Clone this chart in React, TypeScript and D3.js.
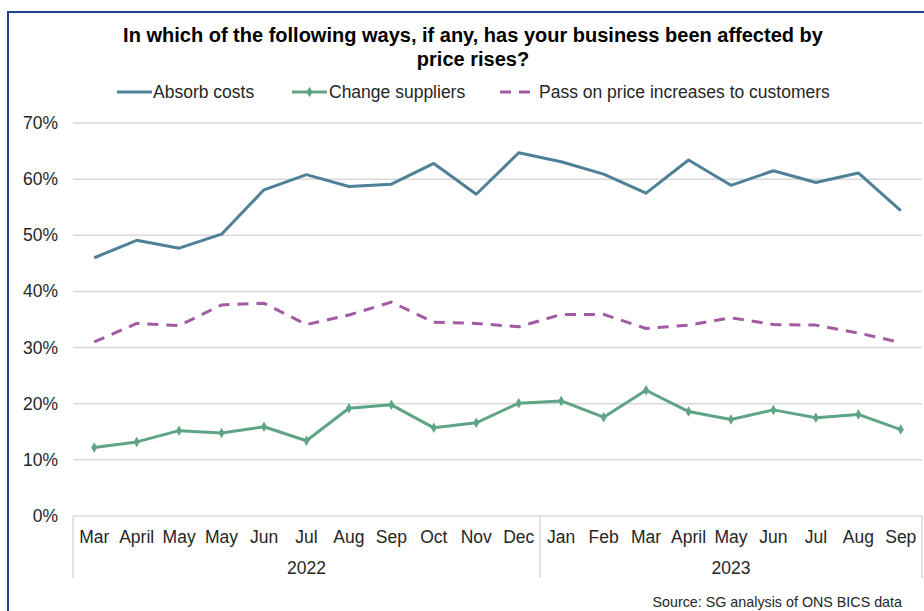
import React from "react";
import * as d3 from "d3";

const months = ["Mar","April","May","May","Jun","Jul","Aug","Sep","Oct","Nov","Dec","Jan","Feb","Mar","April","May","Jun","Jul","Aug","Sep"];
const years = [
  { label: "2022", start: 0, end: 10 },
  { label: "2023", start: 11, end: 19 },
];
const absorbCosts = [46.0,49.1,47.7,50.2,58.1,60.8,58.7,59.1,62.8,57.3,64.7,63.1,60.9,57.5,63.4,58.9,61.5,59.4,61.1,54.4];
const changeSuppliers = [12.2,13.2,15.2,14.8,15.9,13.4,19.2,19.8,15.7,16.6,20.1,20.5,17.6,22.4,18.6,17.2,18.9,17.5,18.1,15.4];
const passOn = [31.0,34.3,33.9,37.6,37.9,34.1,35.8,38.1,34.5,34.3,33.7,35.9,35.9,33.4,34.0,35.3,34.1,34.0,32.6,30.9];
const yTicks = [0,10,20,30,40,50,60,70];

const titleLines = ["In which of the following ways, if any, has your business been affected by", "price rises?"];
const seriesNames = ["Absorb costs", "Change suppliers", "Pass on price increases to customers"];

const W = 924, H = 611;
const FONT = "'Liberation Sans', Arial, sans-serif";
const C_ABS = "#4e8197";
const C_CHG = "#5fa585";
const C_PASS = "#a05ba2";

export default function App() {
  const x = d3.scaleBand<number>().domain(d3.range(months.length)).range([73, 922]);
  const y = d3.scaleLinear().domain([0, 70]).range([516, 123]);
  const cx = (i: number) => (x(i) as number) + x.bandwidth() / 2;
  const line = d3.line<number>().x((_, i) => cx(i)).y((d) => y(d));
  const diamond = d3.symbol().type(d3.symbolDiamond).size(32)();

  return (
    <svg width={W} height={H} style={{ position: "absolute", left: 0, top: 0, background: "#fff" }} fontFamily={FONT}>
      <rect x={8} y={12} width={W + 10} height={H + 10} fill="#fff" stroke="#203f8c" strokeWidth={2} />
      {titleLines.map((t, i) => (
        <text key={i} x={473} y={42 + i * 24} textAnchor="middle" fontWeight="bold" fontSize={20} fill="#000">{t}</text>
      ))}
      {/* legend */}
      <g fontSize={17.5} fill="#262626">
        <line x1={117} x2={152} y1={92} y2={92} stroke={C_ABS} strokeWidth={3} />
        <text x={153} y={98}>{seriesNames[0]}</text>
        <line x1={292} x2={327} y1={92} y2={92} stroke={C_CHG} strokeWidth={3} />
        <path d={diamond} transform="translate(309.5,92)" fill={C_CHG} />
        <text x={329} y={98}>{seriesNames[1]}</text>
        <line x1={500} x2={536} y1={92} y2={92} stroke={C_PASS} strokeWidth={3} strokeDasharray="11 8" />
        <text x={539} y={98}>{seriesNames[2]}</text>
      </g>
      {/* grid */}
      {yTicks.map((t) => (
        <g key={t}>
          <line x1={73} x2={922} y1={y(t)} y2={y(t)} stroke="#d9d9d9" strokeWidth={1.5} />
          <text x={58} y={y(t) + 6} textAnchor="end" fontSize={17.5} fill="#262626">{t}%</text>
        </g>
      ))}
      {/* category axis ticks */}
      {[73, x(11) as number, 922].map((xx, i) => (
        <line key={i} x1={xx} x2={xx} y1={516} y2={578} stroke="#d9d9d9" strokeWidth={1.5} />
      ))}
      {months.map((m, i) => (
        <text key={i} x={cx(i)} y={543} textAnchor="middle" fontSize={17.5} fill="#262626">{m}</text>
      ))}
      {years.map((yr) => (
        <text key={yr.label} x={((x(yr.start) as number) + (x(yr.end) as number) + x.bandwidth()) / 2} y={574} textAnchor="middle" fontSize={17.5} fill="#262626">{yr.label}</text>
      ))}
      {/* series */}
      <path d={line(absorbCosts) || ""} fill="none" stroke={C_ABS} strokeWidth={3} strokeLinejoin="round" />
      <path d={line(changeSuppliers) || ""} fill="none" stroke={C_CHG} strokeWidth={3} strokeLinejoin="round" />
      {changeSuppliers.map((v, i) => (
        <path key={i} d={diamond} transform={`translate(${cx(i)},${y(v)})`} fill={C_CHG} />
      ))}
      <path d={line(passOn) || ""} fill="none" stroke={C_PASS} strokeWidth={3} strokeDasharray="11 8" strokeLinejoin="round" />
      <text x={902} y={607} textAnchor="end" fontSize={14.3} fill="#262626">Source: SG analysis of ONS BICS data</text>
    </svg>
  );
}
